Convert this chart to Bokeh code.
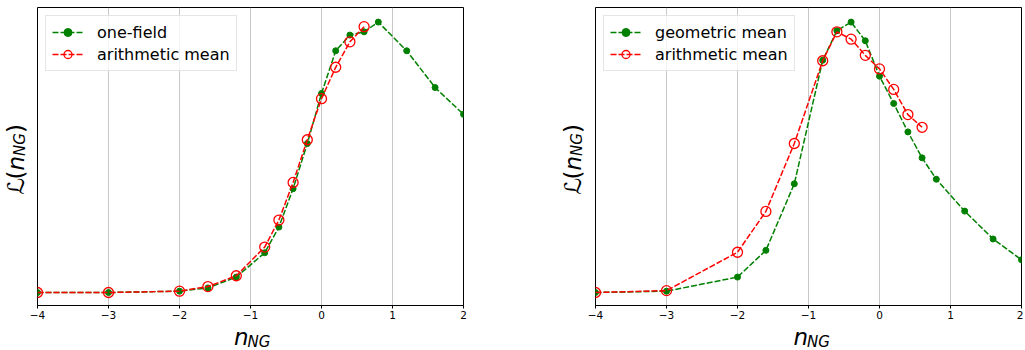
from bokeh.plotting import figure
from bokeh.layouts import row, column
from bokeh.models import FixedTicker, Range1d
from bokeh.core.properties import value
from bokeh.embed import file_html
from bokeh.resources import INLINE

# ---------------- data ----------------
x_ticks = [-4, -3, -2, -1, 0, 1, 2]
x_tick_labels = ["\u22124", "\u22123", "\u22122", "\u22121", "0", "1", "2"]

x_full = [-4, -3, -2, -1.6, -1.2, -0.8, -0.6, -0.4, -0.2, 0, 0.2, 0.4, 0.6, 0.8, 1.2, 1.6, 2]
x_arith = [-4, -3, -2, -1.6, -1.2, -0.8, -0.6, -0.4, -0.2, 0, 0.2, 0.4, 0.6]

one_field = [0, 0, 0.005, 0.017, 0.057, 0.147, 0.242, 0.384, 0.551, 0.736,
             0.894, 0.952, 0.964, 1.0, 0.894, 0.758, 0.659]
arith_left = [0, 0, 0.005, 0.022, 0.062, 0.168, 0.268, 0.407, 0.565, 0.717,
              0.833, 0.927, 0.983]
geometric = [0, 0.005, 0.057, 0.156, 0.402, 0.859, 0.968, 1.0, 0.931, 0.800,
             0.699, 0.594, 0.498, 0.419, 0.301, 0.198, 0.121]
arith_right = [0, 0.007, 0.149, 0.300, 0.551, 0.857, 0.964, 0.937, 0.877, 0.827,
               0.751, 0.658, 0.611]

left_labels = ["one-field", "arithmetic mean"]
right_labels = ["geometric mean", "arithmetic mean"]
xlabel_main, xlabel_sub = "n", "NG"
ylabel_parts = ["\u2112", "(", "n", "NG", ")"]

XMIN, XMAX = -4, 2
YMIN, YMAX = -0.048, 1.054
FW, FH = 426, 298
TOTAL_H = 350
TOP_B, BOT_B = 7, 18
PLOT_H = TOP_B + FH + BOT_B      # 323
XL_H = TOTAL_H - PLOT_H          # 27
FONT = "DejaVu Sans"
GREEN = "#008000"
RED = "#ff0000"
BIG, SMALL = 23, 15
MID = 0.346   # em-box middle above the alphabetic baseline (DejaVu Sans)


def blank(w, h):
    f = figure(width=w, height=h, x_range=Range1d(0, w), y_range=Range1d(0, h),
               output_backend="svg", toolbar_location=None,
               x_axis_location=None, y_axis_location=None,
               min_border=0, min_border_left=0, min_border_right=0,
               min_border_top=0, min_border_bottom=0)
    f.outline_line_color = None
    f.grid.visible = False
    f.background_fill_color = "white"
    f.border_fill_color = "white"
    return f


def txt(f, x, y, s, size, style="normal", angle=0):
    f.text(x=[x], y=[y], text=[s], text_font=value(FONT),
           text_font_size=value(f"{size}px"), text_font_style=style,
           text_color="black", text_align="left", text_baseline="middle",
           angle=angle, angle_units="deg")


def ylab_fig(w, base_x):
    # full-height strip; data y = 350 - picture y; base_x = picture baseline (local)
    f = blank(w, TOTAL_H)
    y = 194.0
    adv = [15.0, 9.0, 14.6, 22.8, 9.0]
    sizes = [BIG, BIG, BIG, SMALL, BIG]
    styles = ["normal", "normal", "italic", "italic", "normal"]
    shifts = [0, 0, 0, 1.5, 0]
    for part, a, s, st, sh in zip(ylabel_parts, adv, sizes, styles, shifts):
        txt(f, base_x + sh - MID * s, TOTAL_H - y, part, s, st, 90)
        y -= a
    return f


def xlab_fig(w, frame_left):
    # strip under a plot; data y = 350 - picture y
    f = blank(w, XL_H)
    cx = frame_left + FW / 2
    txt(f, cx - 19, TOTAL_H - (344.5 - MID * BIG), xlabel_main, BIG, "italic")
    txt(f, cx - 5, TOTAL_H - (346.4 - MID * SMALL), xlabel_sub, SMALL, "italic")
    return f


def make_fig(xg, yg, xr, yr, labels, b_left, b_right):
    p = figure(frame_width=FW, frame_height=FH,
               x_range=Range1d(XMIN, XMAX), y_range=Range1d(YMIN, YMAX),
               output_backend="svg", toolbar_location=None,
               min_border_left=b_left, min_border_right=b_right,
               min_border_top=TOP_B, min_border_bottom=BOT_B)
    p.background_fill_color = "white"
    p.border_fill_color = "white"
    p.outline_line_color = "black"
    p.outline_line_width = 1
    p.yaxis.visible = False
    p.ygrid.visible = False
    p.xgrid.grid_line_color = "#b0b0b0"
    p.xgrid.grid_line_alpha = 0.7
    p.xgrid.grid_line_width = 1
    p.xaxis.ticker = FixedTicker(ticks=x_ticks)
    p.xaxis.major_label_overrides = {t: s for t, s in zip(x_ticks, x_tick_labels)}
    p.xaxis.major_label_text_font = FONT
    p.xaxis.major_label_text_font_size = "10.5px"
    p.xaxis.major_label_text_color = "black"
    p.xaxis.major_label_standoff = 2
    p.xaxis.major_tick_out = 3
    p.xaxis.major_tick_in = 0
    p.xaxis.minor_tick_line_color = None
    p.xaxis.axis_line_color = "black"

    p.line(xg, yg, line_color=GREEN, line_width=1.5, line_dash="6 2",
           legend_label=labels[0])
    p.scatter(xg, yg, marker="circle", size=6, fill_color=GREEN,
              line_color=GREEN, legend_label=labels[0])
    p.line(xr, yr, line_color=RED, line_width=1.5, line_dash="6 2",
           legend_label=labels[1])
    p.scatter(xr, yr, marker="circle", size=10, fill_color=None,
              line_color=RED, line_width=1.3, legend_label=labels[1])

    lg = p.legend[0]
    lg.location = "top_left"
    lg.margin = 8
    lg.padding = 6
    lg.spacing = 2
    lg.glyph_width = 31
    lg.glyph_height = 20
    lg.label_height = 20
    lg.label_standoff = 14
    lg.label_text_font = FONT
    lg.label_text_font_size = "16px"
    lg.label_text_color = "black"
    lg.border_line_color = "#cccccc"
    lg.border_line_width = 1
    lg.background_fill_color = "white"
    lg.background_fill_alpha = 0.8
    return p


# picture x layout:
# ylab1 [0,29) | p1 [29,467) frame 37..463 | ylab2 [467,586) | p2 [586,1023) frame 595..1021
ylab1 = ylab_fig(29, 23.5)
p1 = make_fig(x_full, one_field, x_arith, arith_left, left_labels, 8, 4)
xl1 = xlab_fig(8 + FW + 4, 8)
ylab2 = ylab_fig(119, 580 - 467)
p2 = make_fig(x_full, geometric, x_arith, arith_right, right_labels, 9, 2)
xl2 = xlab_fig(9 + FW + 2, 9)

layout = row(ylab1, column(p1, xl1), ylab2, column(p2, xl2))
open("out.html", "w").write(file_html(layout, INLINE))
